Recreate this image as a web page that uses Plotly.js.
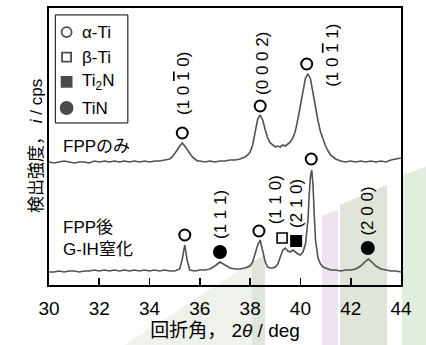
<!DOCTYPE html>
<html>
<head>
<meta charset="utf-8">
<script src="https://cdn.plot.ly/plotly-3.0.1.min.js"></script>
<style>html,body{margin:0;padding:0;background:#fff;}#chart{width:426px;height:345px;}</style>
</head>
<body>
<div id="chart"></div>
<script>
// ---- Data (2θ in deg, intensity in arbitrary cps units) ----
const angTop = [30.0,30.2,30.4,30.6,30.8,31.0,31.2,31.4,31.6,31.8,32.0,32.2,32.4,32.6,32.8,33.0,33.2,33.4,33.6,33.8,34.0,34.2,34.4,34.6,34.7,34.8,34.9,35.0,35.1,35.2,35.3,35.4,35.5,35.6,35.7,35.8,35.9,36.0,36.2,36.4,36.6,36.8,37.0,37.2,37.4,37.6,37.8,37.9,38.0,38.1,38.2,38.3,38.4,38.5,38.6,38.7,38.8,38.9,39.0,39.1,39.2,39.3,39.4,39.5,39.6,39.7,39.8,39.9,40.0,40.1,40.2,40.3,40.4,40.5,40.6,40.7,40.8,40.9,41.0,41.1,41.2,41.3,41.4,41.5,41.6,41.8,42.0,42.2,42.4,42.6,42.8,43.0,43.2,43.4,43.6,43.8,44.0];
const intTop = [123,122,123,124,123,122,123,123,122,124,123,124,123,124,123,124,123,124,123,124,123,124,124,125,125,126,128,131,135,139,142,139,135,131,128,126,124,124,123,124,123,124,124,125,125,126,128,130,133,140,153,166,170,165,155,147,142,140,138,139,138,140,139,141,143,147,154,166,181,196,207,211,206,192,177,164,153,145,139,134,130,128,126,125,124,123,124,123,124,123,124,123,124,123,125,126,127];

const angBot = [30.0,30.2,30.4,30.6,30.8,31.0,31.2,31.4,31.6,31.8,32.0,32.2,32.4,32.6,32.8,33.0,33.2,33.4,33.6,33.8,34.0,34.2,34.4,34.6,34.8,35.0,35.2,35.3,35.4,35.5,35.6,35.8,36.0,36.2,36.4,36.6,36.8,37.0,37.2,37.4,37.6,37.8,38.0,38.1,38.2,38.3,38.4,38.5,38.6,38.7,38.8,38.9,39.0,39.1,39.2,39.3,39.4,39.5,39.6,39.7,39.8,39.9,40.0,40.1,40.2,40.3,40.35,40.4,40.45,40.5,40.55,40.6,40.7,40.8,40.9,41.0,41.2,41.4,41.6,41.8,42.0,42.2,42.4,42.6,42.7,42.8,43.0,43.2,43.4,43.6,43.8,44.0];
const intBot = [13,13,14,13,14,14,13,14,14,15,14,15,14,15,14,15,14,15,14,15,14,15,14,15,14,14,16,26,40,24,15,14,15,15,16,19,23,20,17,16,16,17,19,23,31,40,45,35,23,18,17,17,18,21,28,35,37,34,33,35,33,31,30,33,41,65,90,109,115,100,70,45,27,21,18,17,15,15,14,15,15,16,19,24,26,24,19,16,15,14,14,13];

// phase markers: [2θ, intensity]
const alphaTiX = [35.3, 38.4, 40.25, 35.4, 38.35, 40.43];
const alphaTiY = [152, 179, 221, 50, 54, 126];
const betaTiX = [39.27];
const betaTiY = [47];
const ti2nX = [39.83];
const ti2nY = [44];
const tinX = [36.8, 42.68];
const tinY = [33, 37];

// peak index labels (bar = overlined index)
const OB = '<span style="text-decoration:overline">1</span>';
const peakLabels = ['(1 0 ' + OB + ' 0)', '(0 0 0 2)', '(1 0 ' + OB + ' 1)', '(1 1 1)', '(1 1 0)', '(2 1 0)', '(2 0 0)'];
const peakLabelX = [35.33, 38.47, 41.25, 36.8, 39.0, 39.82, 42.63];
const peakLabelY = [201, 222, 230, 71, 85, 82, 74];

// sample labels
const sampleLabels = ['FPPのみ', 'FPP後<br>G-IH窒化'];
const sampleLabelX = [30.46, 30.46];
const sampleLabelY = [139, 47];

// legend
const phaseNames = ['α-Ti', 'β-Ti', 'Ti<sub>2</sub>N', 'TiN'];

const xTicks = [30, 32, 34, 36, 38, 40, 42, 44];

// ---- Plot ----
const FONT = 'Liberation Sans, Arial, Noto Sans CJK JP, sans-serif';
const lineStyle = {color: '#525252', width: 1.6};

const traces = [
  {x: angTop, y: intTop, mode: 'lines', line: lineStyle, showlegend: false, hoverinfo: 'skip'},
  {x: angBot, y: intBot, mode: 'lines', line: lineStyle, showlegend: false, hoverinfo: 'skip'},
  {x: alphaTiX, y: alphaTiY, mode: 'markers', marker: {symbol: 'circle-open', size: 11, color: '#000', line: {width: 2, color: '#000'}}, showlegend: false, cliponaxis: false},
  {x: betaTiX, y: betaTiY, mode: 'markers', marker: {symbol: 'square-open', size: 10, color: '#000', line: {width: 1.6, color: '#000'}}, showlegend: false, cliponaxis: false},
  {x: ti2nX, y: ti2nY, mode: 'markers', marker: {symbol: 'square', size: 12, color: '#000'}, showlegend: false, cliponaxis: false},
  {x: tinX, y: tinY, mode: 'markers', marker: {symbol: 'circle', size: 14, color: '#000'}, showlegend: false, cliponaxis: false},
];

// custom legend drawn on an overlay axis spanning the plot area (0..1)
const legSymbols = ['circle-open', 'square-open', 'square', 'circle'];
const legSizes = [10, 9, 10, 12];
const legRowsY = [0.913, 0.823, 0.733, 0.639];
traces.push({
  x: legRowsY.map(() => 0.05), y: legRowsY, xaxis: 'x2', yaxis: 'y2', mode: 'markers',
  marker: {symbol: legSymbols, size: legSizes, color: '#000', line: {width: 1.8, color: '#000'}},
  showlegend: false, hoverinfo: 'skip'
});

const annotations = [];
peakLabels.forEach((t, i) => annotations.push({
  x: peakLabelX[i], y: peakLabelY[i], xref: 'x', yref: 'y', text: t, textangle: -90,
  showarrow: false, font: {family: FONT, size: 17, color: '#000'}
}));
sampleLabels.forEach((t, i) => annotations.push({
  x: sampleLabelX[i], y: sampleLabelY[i], xref: 'x', yref: 'y', text: t, xanchor: 'left', align: 'left',
  showarrow: false, font: {family: FONT, size: 17, color: '#000'}
}));
phaseNames.forEach((t, i) => annotations.push({
  x: 0.088, y: legRowsY[i], xref: 'x2', yref: 'y2', text: t, xanchor: 'left',
  showarrow: false, font: {family: FONT, size: 17, color: '#000'}
}));

const W = 426, H = 345;
const ML = 49, MR = 25, MT = 8, MB = 60;
const PW = W - ML - MR, PH = H - MT - MB;
// y-axis title
annotations.push({
  x: (25 - ML) / PW, y: 0.5, xref: 'paper', yref: 'paper', text: '検出強度， <i>i</i> / cps', textangle: -90,
  showarrow: false, font: {family: FONT, size: 17, color: '#000'}
});

// paper coords are relative to the plot area
const px = (x) => (x - ML) / PW, py = (y) => (H - MB - y) / PH;
function poly(pts, color) {
  return {type: 'path', xref: 'paper', yref: 'paper', layer: 'below', line: {width: 0}, fillcolor: color,
    path: 'M' + pts.map(p => px(p[0]).toFixed(4) + ',' + py(p[1]).toFixed(4)).join(' L') + ' Z'};
}
const shapes = [
  poly([[125,345],[252,262],[252,345]], '#eff2eb'),
  poly([[252,262],[265,255],[265,345],[252,345]], '#dfe5d9'),
  poly([[322,216],[338,210],[338,345],[322,345]], '#efe3f0'),
  poly([[340,205],[387,185],[387,345],[340,345]], '#dfe5d9'),
  poly([[402,175],[426,167],[426,345],[402,345]], '#e1eedd'),
  {type: 'rect', xref: 'x2', yref: 'y2', x0: 0.018, x1: 0.224, y0: 0.585, y1: 0.975, line: {color: '#000', width: 1}}
];

const layout = {
  width: W, height: H,
  margin: {l: ML, r: MR, t: MT, b: MB, pad: 0},
  paper_bgcolor: '#ffffff', plot_bgcolor: 'rgba(0,0,0,0)',
  showlegend: false,
  font: {family: FONT, color: '#000'},
  xaxis: {
    range: [30, 44], tickvals: xTicks, ticktext: xTicks.map(String),
    ticks: 'inside', ticklen: 7, tickwidth: 1.6, tickcolor: '#000',
    showline: true, linewidth: 2, linecolor: '#000', mirror: true,
    showgrid: false, zeroline: false, ticklabelstandoff: 5,
    tickfont: {family: FONT, size: 19, color: '#000'},
    title: {text: '回折角， 2<i>θ</i> / deg', font: {family: FONT, size: 19, color: '#000'}, standoff: 6}
  },
  yaxis: {
    range: [0, 277], showticklabels: false, ticks: '',
    showline: true, linewidth: 2, linecolor: '#000', mirror: true,
    showgrid: false, zeroline: false
  },
  xaxis2: {overlaying: 'x', range: [0, 1], visible: false, fixedrange: true},
  yaxis2: {overlaying: 'y', range: [0, 1], visible: false, fixedrange: true},
  annotations: annotations,
  shapes: shapes
};

Plotly.newPlot('chart', traces, layout, {displayModeBar: false, staticPlot: true});
</script>
</body>
</html>
